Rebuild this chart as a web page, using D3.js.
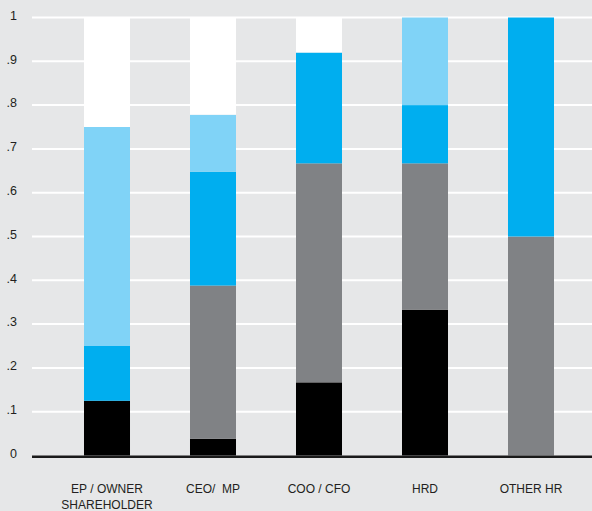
<!DOCTYPE html>
<html>
<head>
<meta charset="utf-8">
<script src="https://cdn.jsdelivr.net/npm/d3@7"></script>
<style>
  html, body { margin: 0; padding: 0; background: #e6e7e8; }
  svg { display: block; }
  text { font-family: "Liberation Sans", Arial, sans-serif; fill: #231f20; }
</style>
</head>
<body>
<svg id="chart" width="592" height="511"></svg>
<script>
// Roles along the x axis (line breaks marked with \n)
const categories = ["EP / OWNER\nSHAREHOLDER", "CEO/  MP", "COO / CFO", "HRD", "OTHER HR"];

// Stacked shares per role, bottom to top; the white cap fills the rest up to 1
const blackShare     = [0.125, 0.038, 0.167, 0.333, 0.0];
const grayShare      = [0.0,   0.350, 0.500, 0.334, 0.5];
const blueShare      = [0.125, 0.260, 0.253, 0.133, 0.5];
const lightBlueShare = [0.500, 0.130, 0.0,   0.200, 0.0];

const yTicks = [0, 0.1, 0.2, 0.3, 0.4, 0.5, 0.6, 0.7, 0.8, 0.9, 1];
const yTickLabels = ["0", ".1", ".2", ".3", ".4", ".5", ".6", ".7", ".8", ".9", "1"];

const seriesKeys = ["black", "gray", "blue", "lightBlue", "white"];
const seriesColor = {
  black: "#000000",
  gray: "#808285",
  blue: "#00aeef",
  lightBlue: "#80d3f7",
  white: "#ffffff"
};

const rows = categories.map((c, i) => {
  const b = blackShare[i], g = grayShare[i], bl = blueShare[i], lb = lightBlueShare[i];
  return { cat: c, black: b, gray: g, blue: bl, lightBlue: lb, white: Math.max(0, 1 - (b + g + bl + lb)) };
});

const svg = d3.select("#chart");

const x = d3.scaleBand()
  .domain(categories)
  .range([54, 584])
  .paddingInner(0.566)
  .paddingOuter(0.283);

const y = d3.scaleLinear().domain([0, 1]).range([455.5, 17.5]);

// Horizontal white grid lines
svg.append("g")
  .selectAll("line")
  .data(yTicks.filter(d => d > 0))
  .join("line")
  .attr("x1", 32).attr("x2", 592)
  .attr("y1", d => y(d)).attr("y2", d => y(d))
  .attr("stroke", "#ffffff")
  .attr("stroke-width", 2);

// Y tick labels
svg.append("g")
  .selectAll("text")
  .data(yTicks)
  .join("text")
  .attr("x", 17)
  .attr("y", d => y(d) - 2)
  .attr("dy", "0.35em")
  .attr("text-anchor", "end")
  .attr("font-size", 12.5)
  .text((d, i) => yTickLabels[i]);

// Stacked bars
const stacked = d3.stack().keys(seriesKeys)(rows);
svg.append("g")
  .selectAll("g")
  .data(stacked)
  .join("g")
  .attr("fill", s => seriesColor[s.key])
  .selectAll("rect")
  .data(s => s)
  .join("rect")
  .attr("x", d => x(d.data.cat))
  .attr("width", x.bandwidth())
  .attr("y", d => y(d[1]))
  .attr("height", d => Math.max(0, y(d[0]) - y(d[1])));

// Baseline
svg.append("line")
  .attr("x1", 32).attr("x2", 592)
  .attr("y1", y(0) + 1.2).attr("y2", y(0) + 1.2)
  .attr("stroke", "#1a1a1a")
  .attr("stroke-width", 2.5);

// Category labels
const xl = svg.append("g")
  .selectAll("text")
  .data(categories)
  .join("text")
  .attr("x", d => x(d) + x.bandwidth() / 2)
  .attr("y", 493)
  .attr("text-anchor", "middle")
  .attr("font-size", 12)
  .style("white-space", "pre");
xl.selectAll("tspan")
  .data(d => d.split("\n"))
  .join("tspan")
  .attr("x", function () { return d3.select(this.parentNode).attr("x"); })
  .attr("dy", (d, i) => i === 0 ? 0 : 16)
  .text(d => d);
</script>
</body>
</html>
